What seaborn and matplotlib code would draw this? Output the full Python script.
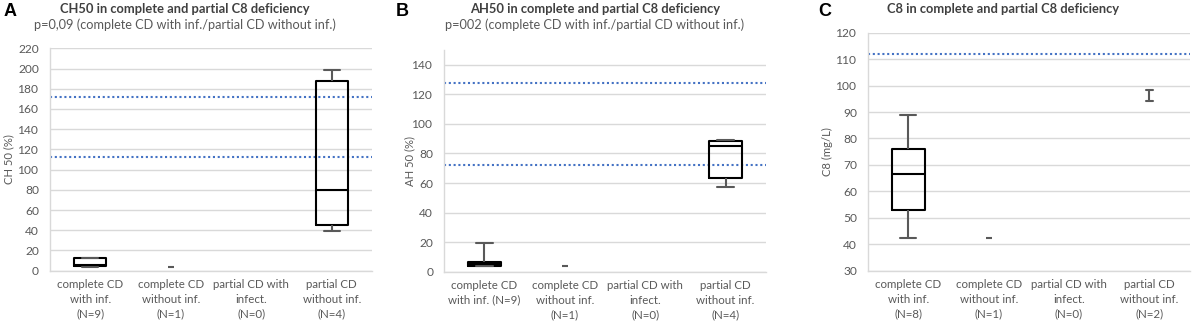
import numpy as np
import pandas as pd
import matplotlib
matplotlib.use("Agg")
import matplotlib.pyplot as plt
import seaborn as sns

# ---------------- data ----------------
cats_A = ["complete CD\nwith inf.\n(N=9)", "complete CD\nwithout inf.\n(N=1)",
          "partial CD with\ninfect.\n(N=0)", "partial CD\nwithout inf.\n(N=4)"]
cats_B = ["complete CD\nwith inf. (N=9)", "complete CD\nwithout inf.\n(N=1)",
          "partial CD with\ninfect.\n(N=0)", "partial CD\nwithout inf.\n(N=4)"]
cats_C = ["complete CD\nwith inf.\n(N=8)", "complete CD\nwithout inf.\n(N=1)",
          "partial CD with\ninfect.\n(N=0)", "partial CD\nwithout inf.\n(N=2)"]

# five-number summaries [min, q1, median, q3, max]
A_complete_inf = [4, 5, 6, 12.5, 13]
A_partial_noinf = [39.5, 45, 80, 187.5, 199]
A_single = [4]            # complete CD without inf. (N=1)
A_ref = [172, 112]

B_complete_inf = [4, 4, 5, 6.5, 19.5]
B_partial_noinf = [57, 63.5, 85, 88.5, 89]
B_single = [4]
B_ref = [128, 72]

C_complete_inf = [42.3, 53, 66.7, 76, 89]
C_single = [42.3]
C_partial_noinf_range = [94, 98.5]   # N=2, drawn as range only
C_ref = [112]

ylims = {"A": (0, 220), "B": (0, 150), "C": (30, 120)}
yticks = {"A": np.arange(0, 221, 20), "B": np.arange(0, 141, 20), "C": np.arange(30, 121, 10)}

titles = {"A": "CH50 in complete and partial C8 deficiency",
          "B": "AH50 in complete and partial C8 deficiency",
          "C": "C8 in complete and partial C8 deficiency"}
subtitles = {"A": "p=0,09 (complete CD with inf./partial CD without inf.)",
             "B": "p=002 (complete CD with inf./partial CD without inf.)"}
ylabels = {"A": "CH 50 (%)", "B": "AH 50 (%)", "C": "C8 (mg/L)"}

# ---------------- style ----------------
sns.set_style("white")
plt.rcParams["font.family"] = ["Lato", "DejaVu Sans"]
GRAY = "#595959"
GRID = "#d9d9d9"
BLUE = "#4472C4"
TITLE = "#404040"

W, H = 1192, 328
fig = plt.figure(figsize=(W / 100, H / 100), dpi=100)
renderer = fig.canvas.get_renderer()


def fit_size(s, target_px, weight="normal"):
    t = fig.text(0, 0, s, fontsize=10, fontweight=weight)
    w = t.get_window_extent(renderer).width
    t.remove()
    return 10 * target_px / w


CAT_FS = fit_size("complete CD", 66)
TICK_FS = fit_size("220", 21)
YLAB_FS = fit_size("CH 50 (%)", 50)
TITLE_FS = fit_size(titles["A"], 248, "bold")
SUB_FS = fit_size(subtitles["A"], 303)


def rect(l, r, t, b):
    return [l / W, 1 - b / H, (r - l) / W, (b - t) / H]


def panel(ax, cats, boxes, single, rng, refs, key):
    rows = []
    for ci, vals in boxes:
        for v in vals:
            rows.append((cats[ci], v))
    dfb = pd.DataFrame(rows, columns=["group", "value"])
    sns.boxplot(data=dfb, x="group", y="value", order=cats, whis=(0, 100),
                width=0.40, fill=False, color="black", linewidth=1.5,
                whiskerprops=dict(color=GRAY, linewidth=1.5),
                capprops=dict(color=GRAY, linewidth=1.5),
                medianprops=dict(color="black", linewidth=1.5),
                showfliers=False, ax=ax, zorder=3)
    ci, vals = single
    dfs = pd.DataFrame({"group": [cats[ci]] * len(vals), "value": vals})
    sns.stripplot(data=dfs, x="group", y="value", order=cats, jitter=False,
                  marker="_", size=5, linewidth=1.5, color=GRAY, ax=ax, zorder=3)
    if rng is not None:
        ci, vals = rng
        dfr = pd.DataFrame({"group": [cats[ci]] * len(vals), "value": vals})
        sns.pointplot(data=dfr, x="group", y="value", order=cats,
                      errorbar=("pi", 100), capsize=0.09, linestyle="none",
                      marker="", color=GRAY, err_kws={"linewidth": 1.5}, ax=ax)
    for r in refs:
        ax.axhline(r, color=BLUE, linestyle=(0, (1, 1.3)), linewidth=1.5, zorder=2)
    ax.set_xlim(-0.5, 3.5)
    ax.set_ylim(*ylims[key])
    ax.set_yticks(yticks[key])
    ax.yaxis.grid(True, color=GRID, linewidth=1)
    ax.set_axisbelow(True)
    for s in ["top", "right"]:
        ax.spines[s].set_visible(False)
    for s in ["left", "bottom"]:
        ax.spines[s].set_color(GRID)
        ax.spines[s].set_linewidth(1)
    ax.tick_params(axis="y", length=0, pad=8, labelsize=TICK_FS, labelcolor=GRAY)
    ax.tick_params(axis="x", length=0, pad=6, labelsize=CAT_FS, labelcolor=GRAY)
    for t in ax.get_xticklabels():
        t.set_linespacing(16 / (CAT_FS * 100 / 72))
    ax.set_xlabel("")
    ax.set_ylabel(ylabels[key], fontsize=YLAB_FS, color=GRAY)


axA = fig.add_axes(rect(50, 372, 48.3, 270.7))
panel(axA, cats_A, [(0, A_complete_inf), (3, A_partial_noinf)], (1, A_single), None, A_ref, "A")
axB = fig.add_axes(rect(444.3, 765.7, 50, 271.7))
panel(axB, cats_B, [(0, B_complete_inf), (3, B_partial_noinf)], (1, B_single), None, B_ref, "B")
axC = fig.add_axes(rect(868.3, 1189.5, 32.7, 270.7))
panel(axC, cats_C, [(0, C_complete_inf)], (1, C_single), (3, C_partial_noinf_range), C_ref, "C")

for ax, x in [(axA, 9), (axB, 410), (axC, 827)]:
    bbox = ax.get_position()
    ax.yaxis.set_label_coords((x / W - bbox.x0) / bbox.width, 0.5)
    ax.yaxis.label.set_verticalalignment("center")


def ftext(x, y, s, **kw):
    fig.text(x / W, 1 - y / H, s, ha="center", va="center", **kw)


for key, cx in [("A", 185), ("B", 595), ("C", 1003)]:
    ftext(cx, 9, titles[key], fontsize=TITLE_FS, fontweight="bold", color=TITLE)
for key, cx in [("A", 185), ("B", 595)]:
    ftext(cx, 25, subtitles[key], fontsize=SUB_FS, color=GRAY)

for x, s in [(10, "A"), (402, "B"), (825, "C")]:
    ftext(x, 11, s, fontsize=13, fontweight="bold", color="black",
          family=["Liberation Sans", "DejaVu Sans"])

fig.savefig("out.png", dpi=100)
